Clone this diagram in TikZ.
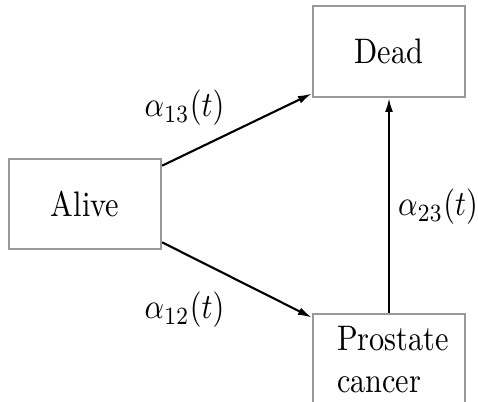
\documentclass[tikz,border=0pt]{standalone}
\usetikzlibrary{arrows.meta,positioning}

\begin{document}
\begin{tikzpicture}[x=0.33pt, y=-0.282pt, yscale=1.17, transform shape,
	statebox/.style={rectangle, draw=black!40, line width=0.7pt, minimum width=50.2pt, minimum height=25.5pt},
	trans/.style={-{Latex[length=4.6pt,width=2.6pt]}, line width=0.7pt}]
	\useasboundingbox (0,0) rectangle (478,402);

	\node[statebox] (alive) at (85,204) {Alive};
	\node[statebox] (dead) at (389,51.5) {Dead};
	\node[statebox, anchor=north, text width=34.3pt, align=left] (pc) at (389,313) {Prostate\\cancer};

	\draw[trans] (alive.23) -- (dead.205);
	\draw[trans] (alive.337) -- (pc.155);
	\draw[trans] (pc.north) -- (dead.south);

	\node (a13) at (184.5,108) {$\alpha_{13}(t)$};
	\node (a12) at (184.5,310) {$\alpha_{12}(t)$};
	\node (a23) at (438,207) {$\alpha_{23}(t)$};
\end{tikzpicture}
\end{document}
